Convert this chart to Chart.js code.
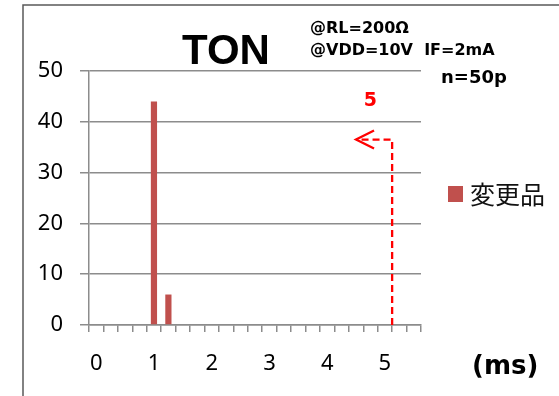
<!DOCTYPE html>
<html>
<head>
<meta charset="utf-8">
<script src="https://cdn.jsdelivr.net/npm/chart.js@4/dist/chart.umd.min.js"></script>
<style>
  html, body { margin: 0; padding: 0; background: #fff; }
  #wrap { width: 559px; height: 396px; position: relative; }
</style>
</head>
<body>
<div id="wrap"><canvas id="c" width="559" height="396"></canvas></div>
<script>
// ---- data ----
const categories = ['0','0.25','0.5','0.75','1','1.25','1.5','1.75','2','2.25','2.5','2.75','3','3.25','3.5','3.75','4','4.25','4.5','4.75','5','5.25','5.5'];
const counts =     [0,   0,     0,    0,     44,  6,     0,    0,     0,  0,     0,    0,     0,  0,     0,    0,     0,  0,     0,    0,     0,  0,     0];
const shownTickLabels = ['0','1','2','3','4','5'];
const yTicks = [0, 10, 20, 30, 40, 50];
const seriesName = '変更品';
const titleText = 'TON';
const conditionLines = ['@RL=200Ω', '@VDD=10V  IF=2mA'];
const sampleText = 'n=50p';
const unitText = '(ms)';
// spec annotation: limit category, arrow level, arrow end category, count beyond spec
const specCategory = '5';
const arrowLevel = 36.5;
const arrowEndCategory = '4.5';
const overSpecCount = '5';
const overSpecCategory = '4.75';
const overSpecLevel = 44;

const barColor = '#C0504D';
const gridColor = '#8c8c8c';

const overlay = {
  id: 'overlay',
  afterDraw(chart) {
    const ctx = chart.ctx;
    const x = chart.scales.x, y = chart.scales.y;
    ctx.save();
    // outer frame (top and left edges visible)
    ctx.strokeStyle = '#595959';
    ctx.lineWidth = 1.5;
    ctx.beginPath();
    ctx.moveTo(23, 400); ctx.lineTo(23, 5); ctx.lineTo(570, 5);
    ctx.stroke();

    // title
    ctx.fillStyle = '#000';
    ctx.font = 'bold 42px "Liberation Sans", Arial, sans-serif';
    ctx.textAlign = 'center';
    ctx.textBaseline = 'alphabetic';
    ctx.fillText(titleText, 226, 64);

    // conditions
    ctx.font = 'bold 16px "DejaVu Sans", sans-serif';
    ctx.textAlign = 'left';
    ctx.fillText(conditionLines[0], 310, 33);
    ctx.fillText(conditionLines[1], 310, 55);
    ctx.font = 'bold 18px "DejaVu Sans", sans-serif';
    ctx.fillText(sampleText, 441, 83);

    // unit
    ctx.font = 'bold 26px "DejaVu Sans", sans-serif';
    ctx.fillText(unitText, 472, 374);

    // legend
    const ds = chart.data.datasets[0];
    ctx.fillStyle = ds.backgroundColor;
    ctx.fillRect(448, 186, 15, 16);
    ctx.fillStyle = '#111';
    ctx.font = '25px "Noto Sans CJK JP", sans-serif';
    ctx.textBaseline = 'middle';
    ctx.fillText(ds.label, 470, 194);

    // spec annotation
    const idx = categories.indexOf(specCategory);
    const half = (x.getPixelForValue(1) - x.getPixelForValue(0)) / 2;
    const sx = x.getPixelForValue(idx) + half;
    const ay = y.getPixelForValue(arrowLevel);
    const ex = x.getPixelForValue(categories.indexOf(arrowEndCategory));
    ctx.strokeStyle = '#FF0000';
    ctx.lineWidth = 2.3;
    ctx.setLineDash([7, 4]);
    ctx.beginPath();
    ctx.moveTo(sx, y.getPixelForValue(0));
    ctx.lineTo(sx, ay);
    ctx.lineTo(ex, ay);
    ctx.stroke();
    ctx.setLineDash([]);
    ctx.beginPath();
    ctx.moveTo(ex + 18, ay - 9);
    ctx.lineTo(ex, ay);
    ctx.lineTo(ex + 18, ay + 9);
    ctx.stroke();

    ctx.fillStyle = '#FF0000';
    ctx.font = 'bold 19px "DejaVu Sans", sans-serif';
    ctx.textAlign = 'center';
    ctx.textBaseline = 'middle';
    ctx.fillText(overSpecCount, x.getPixelForValue(categories.indexOf(overSpecCategory)), y.getPixelForValue(overSpecLevel));
    ctx.restore();
  }
};

new Chart(document.getElementById('c'), {
  type: 'bar',
  data: {
    labels: categories,
    datasets: [{
      label: seriesName,
      data: counts,
      backgroundColor: barColor,
      borderWidth: 0,
      barPercentage: 0.43,
      categoryPercentage: 1.0
    }]
  },
  options: {
    responsive: false,
    animation: false,
    devicePixelRatio: 1,
    layout: { padding: { left: 0, right: 138, top: 71, bottom: 0 } },
    plugins: { legend: { display: false }, title: { display: false }, tooltip: { enabled: false } },
    scales: {
      x: {
        type: 'category',
        afterFit(s) { s.height = 71; },
        grid: { display: true, drawOnChartArea: false, offset: true, tickLength: 7, color: gridColor, lineWidth: 1.5 },
        border: { display: true, color: gridColor, width: 1.5 },
        ticks: {
          autoSkip: false, maxRotation: 0, minRotation: 0, padding: 19,
          color: '#000', font: { family: '"Noto Sans", sans-serif', size: 22 },
          callback(v, i) { const l = categories[i]; return shownTickLabels.includes(l) ? l : ''; }
        }
      },
      y: {
        min: yTicks[0], max: yTicks[yTicks.length - 1],
        afterFit(s) { s.width = 89; },
        afterBuildTicks(s) { s.ticks = yTicks.map(v => ({ value: v })); },
        grid: { color: gridColor, lineWidth: 1.5, tickLength: 9 },
        border: { display: true, color: gridColor, width: 1.5 },
        ticks: { padding: 17, color: '#000', font: { family: '"Noto Sans", sans-serif', size: 22 } }
      }
    }
  },
  plugins: [overlay]
});
</script>
</body>
</html>
